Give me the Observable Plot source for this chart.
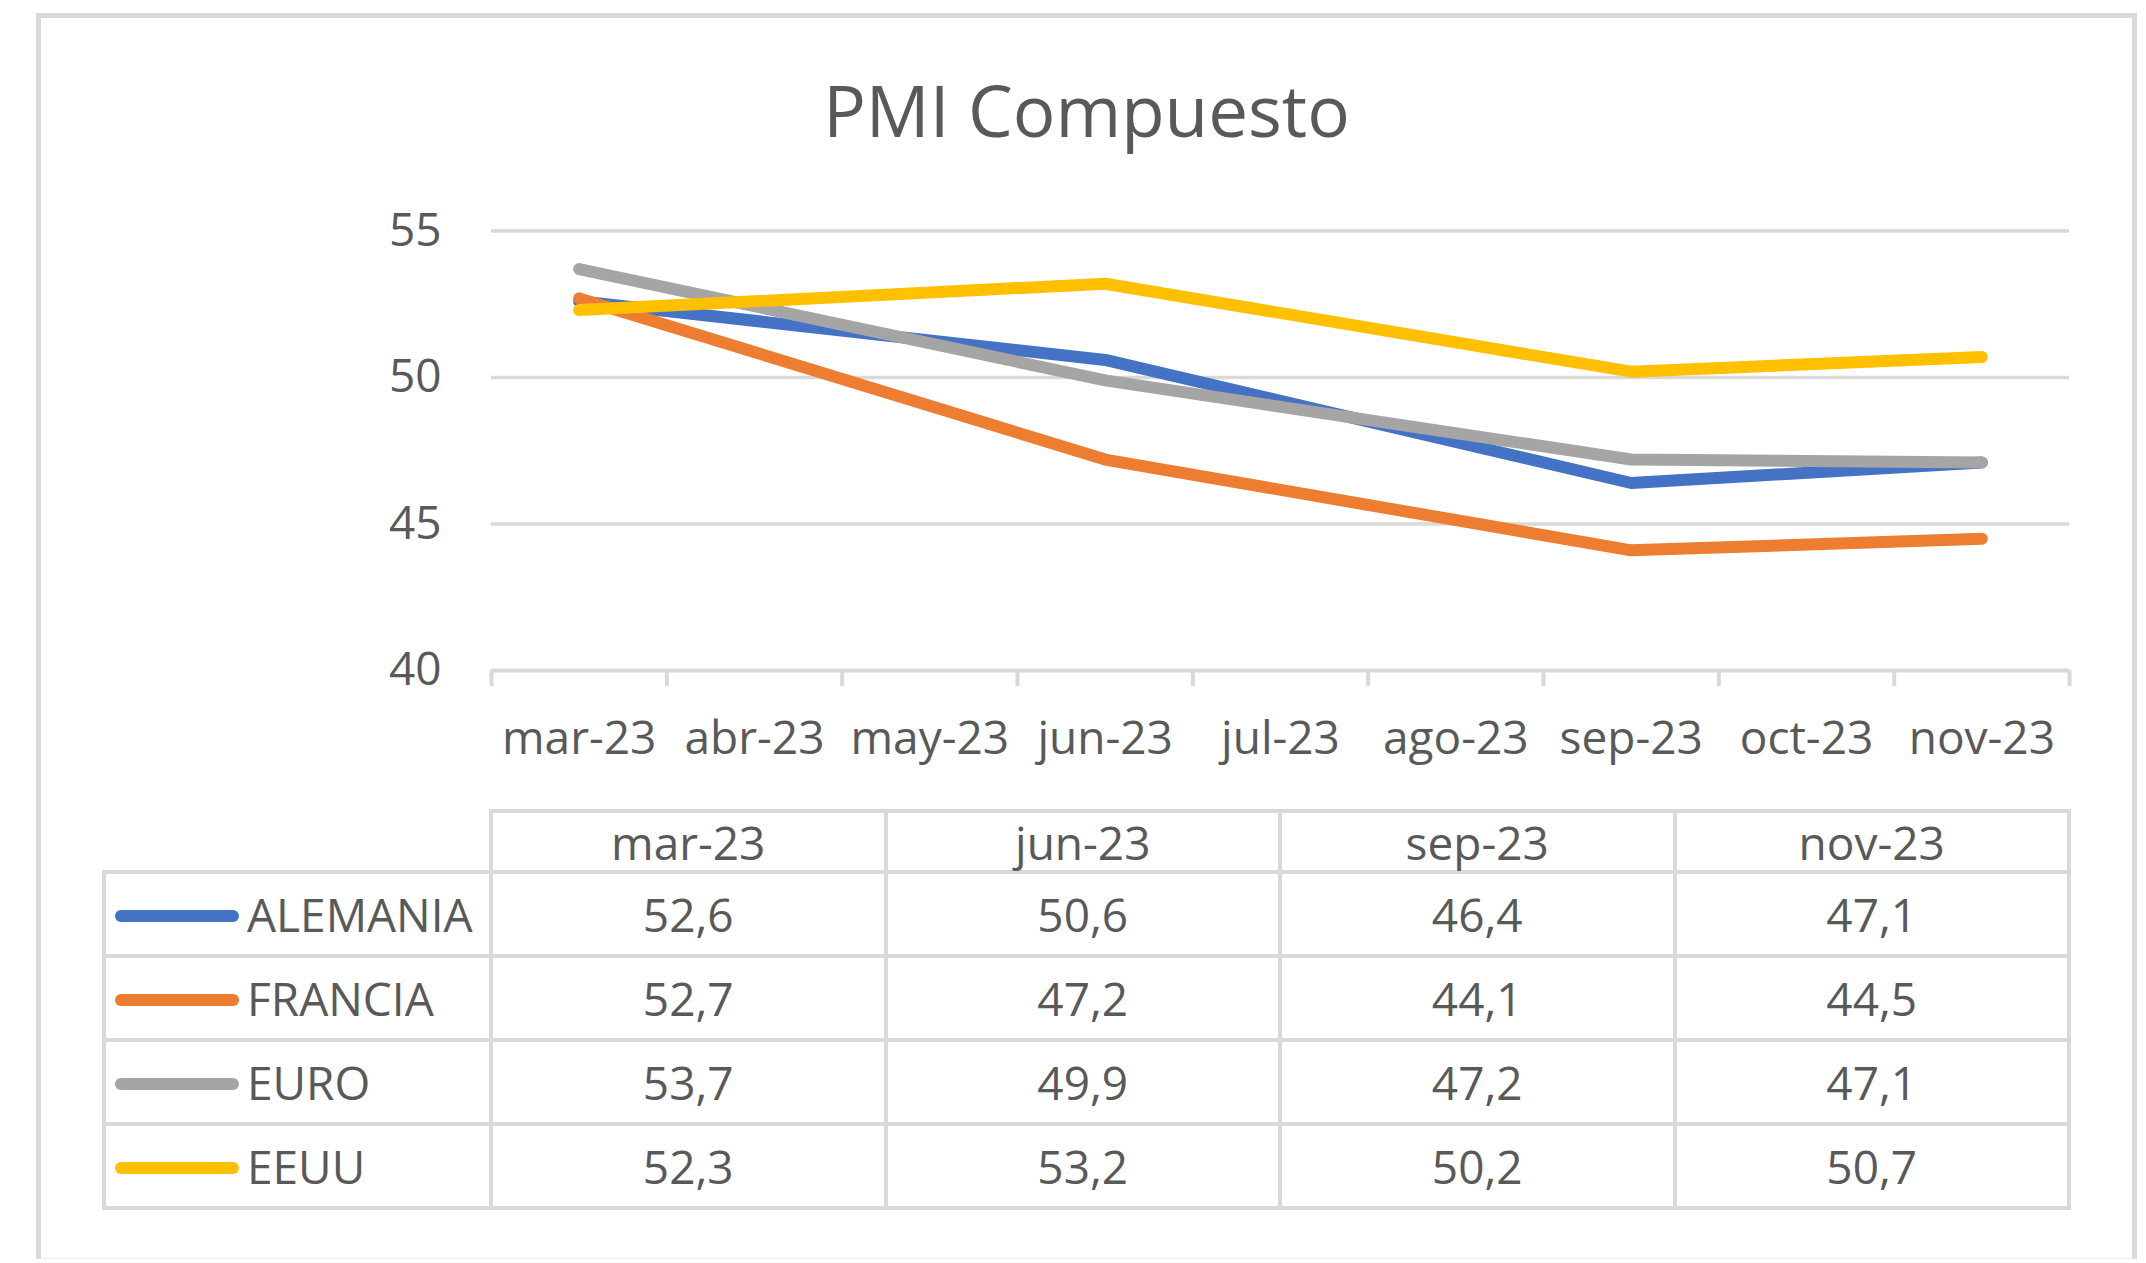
<!DOCTYPE html>
<html>
<head>
<meta charset="utf-8">
<script src="https://cdn.jsdelivr.net/npm/d3@7"></script>
<script src="https://cdn.jsdelivr.net/npm/@observablehq/plot@0.6"></script>
<style>
  html, body { margin: 0; padding: 0; background: #fff; }
  body { width: 2146px; height: 1263px; position: relative; overflow: hidden; font-family: "Open Sans", sans-serif; color: #595959; }
  #frame { position: absolute; left: 36px; top: 13px; width: 2101px; height: 1246px; box-sizing: border-box;
           border: 5px solid #d9d9d9; border-bottom: 1px solid #efefef; }
  #title { position: absolute; left: 36px; width: 2101px; top: 74px; text-align: center; font-size: 71px; line-height: 71px; }
  #chart { position: absolute; left: 0; top: 150px; }
  #tbl { position: absolute; left: 102px; top: 809px; border-collapse: collapse; table-layout: fixed; font-size: 46px; line-height: 1; }
  #tbl td { border: 4px solid #d9d9d9; padding: 0; text-align: center; vertical-align: middle; white-space: nowrap; }
  #tbl td.corner { border-top: hidden; border-left: hidden; }
  #tbl td.lab { text-align: left; padding-left: 9px; }
  .sw { display: inline-block; width: 124px; height: 12px; border-radius: 6px; margin-right: 8px; vertical-align: middle; position: relative; top: -4px; }
</style>
</head>
<body>
<div id="frame"></div>
<div id="title">PMI Compuesto</div>
<div id="chart"></div>
<table id="tbl"></table>
<script>
// ---- data ----
const months = ["mar-23", "abr-23", "may-23", "jun-23", "jul-23", "ago-23", "sep-23", "oct-23", "nov-23"];
const tableMonths = ["mar-23", "jun-23", "sep-23", "nov-23"];
const seriesNames = ["ALEMANIA", "FRANCIA", "EURO", "EEUU"];
const alemania = [52.6, 50.6, 46.4, 47.1];
const francia  = [52.7, 47.2, 44.1, 44.5];
const euro     = [53.7, 49.9, 47.2, 47.1];
const eeuu     = [52.3, 53.2, 50.2, 50.7];
const seriesColors = ["#4472C4", "#ED7D31", "#A5A5A5", "#FFC000"];
const yTicks = [40, 45, 50, 55];

const seriesValues = [alemania, francia, euro, eeuu];
const rows = [];
seriesNames.forEach((s, si) => {
  tableMonths.forEach((m, mi) => {
    rows.push({series: s, month: m, idx: months.indexOf(m) + 0.5, value: seriesValues[si][mi]});
  });
});

const bounds = d3.range(months.length + 1);
const centers = months.map((m, i) => i + 0.5);

const chart = Plot.plot({
  width: 2146,
  height: 640,
  marginLeft: 491,
  marginRight: 77,
  marginTop: 80.5,
  marginBottom: 120,
  x: {type: "linear", domain: [0, months.length], axis: null},
  y: {domain: [40, 55], axis: null},
  color: {domain: seriesNames, range: seriesColors},
  style: {fontFamily: "Open Sans", fontSize: "46px", color: "#595959", background: "transparent", overflow: "visible"},
  marks: [
    Plot.ruleY(yTicks.filter(d => d > 40), {stroke: "#d9d9d9", strokeWidth: 3.5}),
    Plot.ruleY([40], {stroke: "#d9d9d9", strokeWidth: 4}),
    Plot.axisX({ticks: bounds, tickSize: 16, tickFormat: () => "", stroke: "#d9d9d9", strokeWidth: 4, label: null}),
    Plot.axisX({ticks: centers, tickSize: 0, tickPadding: 51, tickFormat: d => months[Math.floor(d)], label: null}),
    Plot.axisY({ticks: yTicks, tickSize: 0, tickPadding: 50, label: null}),
    Plot.line(rows, {x: "idx", y: "value", z: "series", stroke: "series", strokeWidth: 12, strokeLinecap: "round", strokeLinejoin: "round"})
  ]
});
document.getElementById("chart").appendChild(chart);

// ---- data table ----
const fmt = v => v.toFixed(1).replace(".", ",");
const tbl = document.getElementById("tbl");
const colg = document.createElement("colgroup");
[387].concat(tableMonths.map(() => 394.5)).forEach(w => {
  const c = document.createElement("col"); c.style.width = w + "px"; colg.appendChild(c);
});
tbl.appendChild(colg);
const hr = document.createElement("tr");
hr.style.height = "61px";
const corner = document.createElement("td"); corner.className = "corner"; hr.appendChild(corner);
tableMonths.forEach(m => { const td = document.createElement("td"); td.textContent = m; hr.appendChild(td); });
tbl.appendChild(hr);
seriesNames.forEach((s, si) => {
  const tr = document.createElement("tr");
  tr.style.height = "84px";
  const lab = document.createElement("td"); lab.className = "lab";
  const sw = document.createElement("span"); sw.className = "sw"; sw.style.background = seriesColors[si];
  lab.appendChild(sw); lab.appendChild(document.createTextNode(s));
  tr.appendChild(lab);
  seriesValues[si].forEach(v => { const td = document.createElement("td"); td.textContent = fmt(v); tr.appendChild(td); });
  tbl.appendChild(tr);
});
</script>
</body>
</html>
